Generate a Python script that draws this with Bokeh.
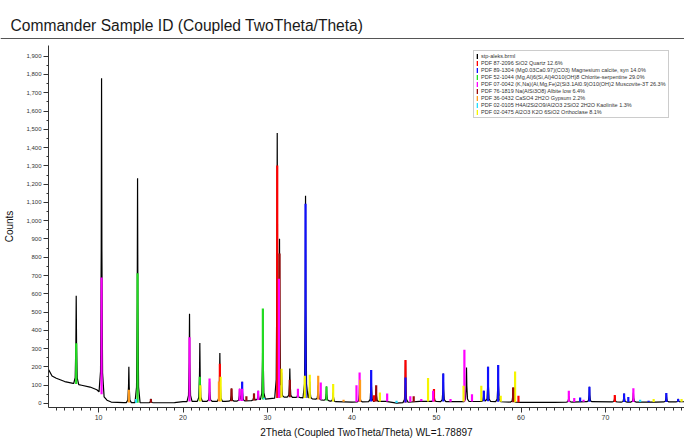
import numpy as np
from bokeh.plotting import figure
from bokeh.layouts import column
from bokeh.models import (ColumnDataSource, FixedTicker, NumeralTickFormatter,
                          Legend, LegendItem, Range1d, Label, Span)
from bokeh.embed import file_html
from bokeh.resources import INLINE

title_text = "Commander Sample ID (Coupled TwoTheta/Theta)"
x_label = "2Theta (Coupled TwoTheta/Theta) WL=1.78897"
y_label = "Counts"
scan_label = "stp-aleks.brml"

x_ticks = [10, 20, 30, 40, 50, 60, 70, 80]
y_ticks = list(range(0, 2000, 100))

# measured background of the scan (2theta, counts)
bg_x = [4.1, 4.5, 5.0, 6.0, 7.0, 8.0, 9.0, 9.8, 10.6, 11.0, 11.5, 13.0, 16.0, 19.0,
        20.0, 22.0, 25.0, 28.0, 30.0, 32.0, 34.0, 36.0, 38.0, 40.0, 44.0, 45.3,
        48.0, 52.0, 56.0, 60.0, 64.0, 68.0, 72.0, 76.0, 80.0]
bg_y = [185, 150, 138, 120, 110, 100, 90, 75, 40, 18, 8, 5, 4, 5,
        10, 12, 12, 15, 25, 35, 32, 22, 10, 8, 12, 2,
        12, 10, 12, 6, 6, 10, 8, 8, 10]

# observed peak maxima of the scan
peak_pos = [7.36, 10.36, 13.59, 14.62, 16.2, 20.77, 21.99, 23.14, 24.36, 25.74,
            26.7, 27.0, 28.4, 28.9, 29.45, 31.15, 31.42, 31.66, 32.64, 33.6,
            34.5, 35.0, 36.0, 36.98, 37.77, 40.9, 42.27, 42.86, 46.33, 49.7,
            50.8, 53.55, 55.6, 56.1, 57.3, 59.07, 65.66, 68.1, 71.1, 72.2,
            73.3, 77.2, 78.6]
peak_top = [590, 1780, 201, 1232, 25, 491, 331, 120, 276, 82,
            80, 119, 55, 70, 515, 1470, 882, 150, 192, 60,
            1137, 120, 100, 93, 60, 100, 183, 80, 237, 60,
            164, 197, 70, 201, 210, 88, 40, 91, 40, 55,
            60, 57, 25]

# reference patterns (stick position, stick top)
quartz_pos = [24.36, 31.15, 42.6, 46.33, 49.7, 59.7, 71.1]
quartz_top = [217, 1302, 45, 238, 79, 42, 46]
calcite_pos = [27.0, 34.5, 42.27, 46.33, 50.8, 55.6, 56.1, 57.3, 67.0, 68.1, 72.2, 72.7, 75.1, 77.2, 78.6]
calcite_top = [119, 1093, 183, 142, 164, 70, 201, 210, 33, 91, 55, 35, 15, 57, 25]
chlorite_pos = [7.36, 14.62, 21.99, 29.45, 36.98]
chlorite_top = [329, 712, 146, 520, 93]
muscovite_pos = [10.36, 20.77, 23.14, 26.7, 27.0, 28.9, 31.35, 33.6, 36.3, 40.53, 40.9,
                 44.16, 46.9, 48.2, 49.6, 51.66, 53.3, 54.2, 65.66, 66.3, 67.4, 73.3]
muscovite_top = [690, 362, 137, 80, 80, 70, 682, 80, 115, 100, 170,
                 55, 40, 25, 70, 25, 294, 51, 70, 30, 20, 84]
albite_pos = [16.2, 25.74, 27.5, 28.4, 31.42, 32.64, 42.86, 47.3, 59.07]
albite_top = [25, 82, 40, 55, 820, 130, 100, 40, 88]
gypsum_pos = [13.59, 24.25, 36.0, 39.0, 40.95]
gypsum_top = [75, 120, 152, 20, 130]
kaolinite_pos = [14.45, 29.6, 45.27, 74.1]
kaolinite_top = [25, 30, 15, 20]
orthoclase_pos = [22.05, 24.45, 31.66, 34.41, 35.0, 37.77, 43.3, 49.0, 53.2, 55.3, 57.6, 59.3, 75.7, 79.0]
orthoclase_top = [100, 146, 190, 152, 157, 106, 60, 139, 97, 97, 42, 175, 25, 25]

phase_labels = [
    "PDF 87-2096 SiO2 Quartz 12.6%",
    "PDF 89-1304 (Mg0.03Ca0.97)(CO3) Magnesium calcite, syn 14.0%",
    "PDF 52-1044 (Mg,Al)6(Si,Al)4O10(OH)8 Chlorite-serpentine 29.0%",
    "PDF 07-0042 (K,Na)(Al,Mg,Fe)2(Si3.1Al0.9)O10(OH)2 Muscovite-3T 26.3%",
    "PDF 76-1819 Na(AlSi3O8) Albite low 6.4%",
    "PDF 36-0432 CaSO4 2H2O Gypsum 2.2%",
    "PDF 02-0105 H4Al2Si2O9/Al2O3 2SiO2 2H2O Kaolinite 1.3%",
    "PDF 02-0475 Al2O3 K2O 6SiO2 Orthoclase 8.1%",
]
phase_colors = ["#ff0000", "#1010ff", "#22dd22", "#ff00ff", "#9b0a0a", "#ff9a1a", "#22ddff", "#f5f500"]
phase_pos = [quartz_pos, calcite_pos, chlorite_pos, muscovite_pos, albite_pos, gypsum_pos, kaolinite_pos, orthoclase_pos]
phase_top = [quartz_top, calcite_top, chlorite_top, muscovite_top, albite_top, gypsum_top, kaolinite_top, orthoclase_top]

FONT = "Liberation Sans"
W, H, HEAD = 684, 443, 39

# ---- header (title + separator rule) ----
ph = figure(width=W, height=HEAD, output_backend="svg", toolbar_location=None,
            x_range=Range1d(0, W), y_range=Range1d(0, HEAD),
            min_border_left=0, min_border_right=0, min_border_top=0, min_border_bottom=0)
ph.frame_align = False
ph.axis.visible = False
ph.grid.visible = False
ph.outline_line_color = None
ph.background_fill_color = "white"
ph.border_fill_color = "white"
ph.add_layout(Label(x=10, y=14, x_units="screen", y_units="data", text=title_text,
                    text_font=FONT, text_font_size="15.6px", text_color="#1a1a1a",
                    text_baseline="middle", text_align="left"))
ph.add_layout(Span(location=1, dimension="width", line_color="#555555", line_width=1.2))

# ---- build the scan polyline from background + peak maxima ----
offs = np.array([-0.30, -0.12, -0.04, 0.0, 0.04, 0.12, 0.30])
fracs = np.array([0.0, 0.07, 0.45, 1.0, 0.45, 0.07, 0.0])
bgx = np.array(bg_x, float)
bgy = np.array(bg_y, float)
xs = set(bg_x)
for pp in peak_pos:
    xs.update((pp + offs).tolist())
xs = np.array(sorted(xs))
ys = np.interp(xs, bgx, bgy)
for pp, pt in zip(peak_pos, peak_top):
    h = pt - np.interp(pp, bgx, bgy)
    ys = ys + np.interp(xs, pp + offs, h * fracs, left=0, right=0)

# ---- sticks ----
sx, stop, sbot, scol = [], [], [], []
for pos, top, col in zip(phase_pos, phase_top, phase_colors):
    for a, b in zip(pos, top):
        sx.append(a); stop.append(b); sbot.append(float(np.interp(a, bgx, bgy))); scol.append(col)
order = np.argsort(-np.array(stop))
stick_src = ColumnDataSource(dict(x=[sx[i] for i in order], top=[stop[i] for i in order],
                                  bottom=[sbot[i] for i in order], color=[scol[i] for i in order]))

p = figure(width=W, height=H - HEAD, output_backend="svg", toolbar_location=None,
           x_range=Range1d(4.08, 79.35), y_range=Range1d(-21.9, 1958.6),
           min_border_left=48, min_border_right=0, min_border_top=6, min_border_bottom=36)
p.frame_align = False
p.background_fill_color = "white"
p.border_fill_color = "white"
p.outline_line_color = None
p.grid.visible = False

p.line(xs, ys, line_color="black", line_width=1.2)
p.vbar(x="x", top="top", bottom="bottom", width=0.26, fill_color="color", line_color=None, source=stick_src)

# legend (off-range dummy renderers used only for the legend glyphs)
dummy = dict(x=[-100.0], top=[0.0], bottom=[0.0])
items = []
r0 = p.vbar(x="x", top="top", bottom="bottom", width=0.26, fill_color="black", line_color=None,
            source=ColumnDataSource(dummy))
items.append(LegendItem(label=scan_label, renderers=[r0]))
for lab, col in zip(phase_labels, phase_colors):
    r = p.vbar(x="x", top="top", bottom="bottom", width=0.26, fill_color=col, line_color=None,
               source=ColumnDataSource(dummy))
    items.append(LegendItem(label=lab, renderers=[r]))
legend = Legend(items=items, location=(425, 289), label_text_font=FONT, label_text_font_size="5.5px",
                label_text_color="#333333", glyph_width=2, glyph_height=6, label_height=6,
                spacing=1, padding=2, margin=0, label_standoff=3,
                border_line_color="#9a9a9a", border_line_width=1,
                background_fill_color="white", background_fill_alpha=1)
p.add_layout(legend)

# axes
p.xaxis.ticker = FixedTicker(ticks=x_ticks, minor_ticks=list(range(5, 80)))
p.yaxis.ticker = FixedTicker(ticks=y_ticks, minor_ticks=list(range(50, 1950, 100)))
p.yaxis.formatter = NumeralTickFormatter(format="0,0")
for ax in (p.xaxis, p.yaxis):
    ax.axis_line_color = "#333333"
    ax.major_tick_line_color = "#333333"
    ax.minor_tick_line_color = "#333333"
    ax.major_label_text_font = FONT
    ax.major_label_text_color = "#333333"
    ax.axis_label_text_font = FONT
    ax.axis_label_text_font_style = "normal"
    ax.axis_label_text_font_size = "10px"
    ax.axis_label_text_color = "#111111"
p.xaxis.major_label_text_font_size = "7px"
p.yaxis.major_label_text_font_size = "6px"
p.xaxis.major_tick_out = 5
p.xaxis.major_tick_in = 0
p.xaxis.minor_tick_out = 3
p.xaxis.minor_tick_in = 0
p.yaxis.major_tick_out = 5
p.yaxis.major_tick_in = 0
p.yaxis.minor_tick_out = 2
p.yaxis.minor_tick_in = 0
p.xaxis.major_label_standoff = 2
p.yaxis.major_label_standoff = 2
p.xaxis.axis_label = x_label
p.yaxis.axis_label = y_label
p.xaxis.axis_label_standoff = 4
p.yaxis.axis_label_standoff = 8

layout = column(ph, p, spacing=0)
open("out.html", "w").write(file_html(layout, INLINE))
